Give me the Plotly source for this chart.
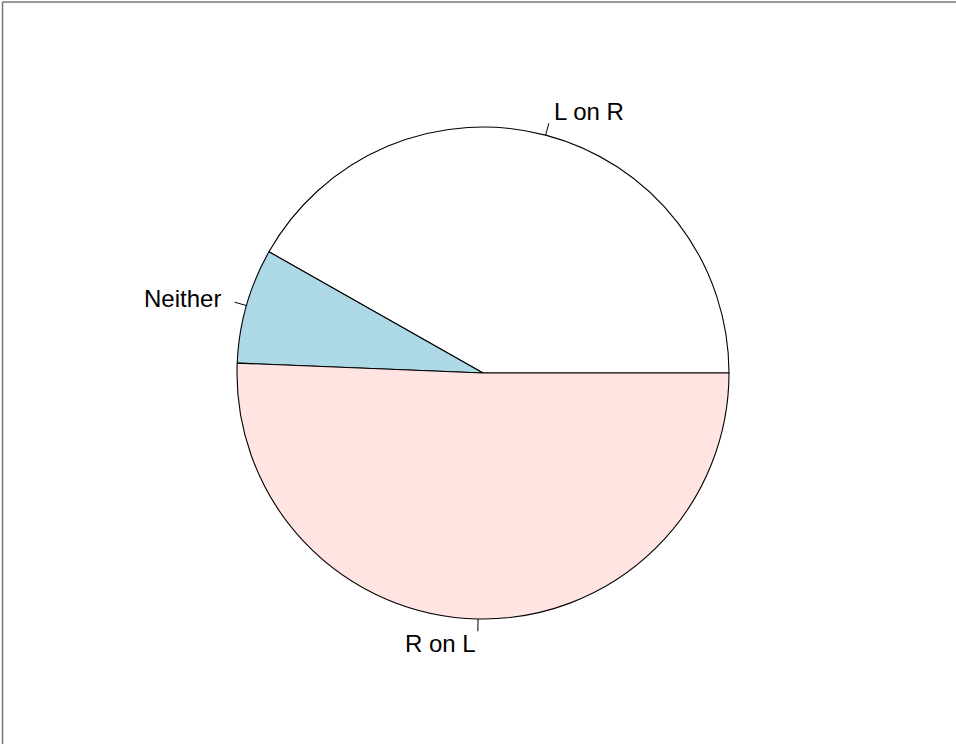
import math
import plotly.graph_objects as go

labels = ["L on R", "Neither", "R on L"]
values = [41.8, 7.56, 50.64]
colors = ["#FFFFFF", "#ADD8E6", "#FFE4E1"]

W, H = 956, 744
cx, cy, R = 483, 373, 246
ml, mr, mt, mb = cx - R, W - (cx + R), cy - R, H - (cy + R)

total = sum(values)
# Plotly's counterclockwise pies put the first slice clockwise of the rotation
# point; rotate so the first slice starts at 3 o'clock like R's pie()
rotation = 90 - 360 * values[0] / total

fig = go.Figure(go.Pie(
    labels=labels, values=values, sort=False,
    direction="counterclockwise", rotation=rotation,
    marker=dict(colors=colors, line=dict(color="black", width=1.1)),
    textinfo="none", hoverinfo="skip", showlegend=False,
))

annotations, shapes = [], []
cum = 0.0
for lab, v in zip(labels, values):
    mid = 2 * math.pi * (cum + v / 2) / total
    cum += v
    c, s = math.cos(mid), math.sin(mid)
    shapes.append(dict(type="line", xref="paper", yref="paper",
                       x0=0.5 + 0.5 * c, y0=0.5 + 0.5 * s,
                       x1=0.5 + 0.5 * 1.05 * c, y1=0.5 + 0.5 * 1.05 * s,
                       line=dict(color="black", width=1)))
    annotations.append(dict(text=lab, xref="paper", yref="paper",
                            x=0.5 + 0.5 * 1.1 * c, y=0.5 + 0.5 * 1.1 * s,
                            xanchor="left" if c > 0 else "right", yanchor="middle",
                            showarrow=False,
                            font=dict(family="Liberation Sans, Arial", size=24, color="black")))

pw, ph = W - ml - mr, H - mt - mb
# frame (top and left edges visible)
x_left = (2.5 - ml) / pw
y_top = 1 + (mt - 2.0) / ph
shapes.append(dict(type="line", xref="paper", yref="paper", x0=x_left, x1=(W + 5 - ml) / pw,
                   y0=y_top, y1=y_top, line=dict(color="#777777", width=1.5)))
shapes.append(dict(type="line", xref="paper", yref="paper", x0=x_left, x1=x_left,
                   y0=y_top, y1=-(mb + 5) / ph, line=dict(color="#777777", width=1.5)))

fig.update_layout(width=W, height=H, margin=dict(l=ml, r=mr, t=mt, b=mb, pad=0),
                  paper_bgcolor="white", plot_bgcolor="white",
                  annotations=annotations, shapes=shapes)
fig.write_html("out.html", config={"displayModeBar": False},
               post_script="document.body.style.margin='0';document.body.style.overflow='hidden';")
